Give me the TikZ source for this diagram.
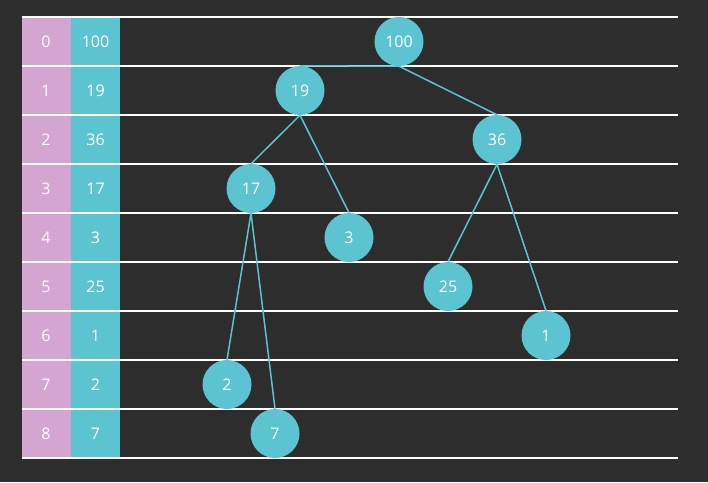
\documentclass[tikz,border=0pt]{standalone}
\usepackage{fontspec}
\setmainfont{Open Sans}
\newlength{\du}
\setlength{\du}{1pt}
\definecolor{bgcolor}{rgb}{0.176, 0.176, 0.176}
\definecolor{pinkcolor}{rgb}{0.831, 0.647, 0.816}
\definecolor{cyancolor}{rgb}{0.357, 0.769, 0.816}
\tikzset{
  heapnode/.style={circle, fill=cyancolor, minimum size=49\du, inner sep=0pt, text=white, font=\fontsize{16}{19}\selectfont},
  cell/.style={text=white, font=\fontsize{16}{19}\selectfont},
  rowline/.style={draw=white, line width=1.5\du},
  heapedge/.style={draw=cyancolor, line width=1.5\du}
}
\begin{document}
\begin{tikzpicture}
\pgftransformxscale{1.000000}
\pgftransformyscale{-1.000000}
\fill[bgcolor] (0\du,0\du) rectangle (708\du,482\du);
\useasboundingbox (0\du,0\du) rectangle (708\du,482\du);
% table columns
\fill[pinkcolor] (22\du,17\du) rectangle (71\du,458\du);
\fill[cyancolor] (71\du,17\du) rectangle (120\du,458\du);
% row lines
\foreach \k in {0,...,9}
  \draw[rowline] (22\du,17\du+\k*49\du) -- (678\du,17\du+\k*49\du);
% index and value cells
\node[cell] (idx0) at (46\du,41.5\du){0};
\node[cell] (val0) at (95.5\du,41.5\du){100};
\node[cell] (idx1) at (46\du,90.5\du){1};
\node[cell] (val1) at (95.5\du,90.5\du){19};
\node[cell] (idx2) at (46\du,139.5\du){2};
\node[cell] (val2) at (95.5\du,139.5\du){36};
\node[cell] (idx3) at (46\du,188.5\du){3};
\node[cell] (val3) at (95.5\du,188.5\du){17};
\node[cell] (idx4) at (46\du,237.5\du){4};
\node[cell] (val4) at (95.5\du,237.5\du){3};
\node[cell] (idx5) at (46\du,286.5\du){5};
\node[cell] (val5) at (95.5\du,286.5\du){25};
\node[cell] (idx6) at (46\du,335.5\du){6};
\node[cell] (val6) at (95.5\du,335.5\du){1};
\node[cell] (idx7) at (46\du,384.5\du){7};
\node[cell] (val7) at (95.5\du,384.5\du){2};
\node[cell] (idx8) at (46\du,433.5\du){8};
\node[cell] (val8) at (95.5\du,433.5\du){7};
% heap tree
\node[heapnode] (n0) at (399\du,41.5\du){100};
\node[heapnode] (n1) at (300\du,90.5\du){19};
\node[heapnode] (n2) at (497\du,139.5\du){36};
\node[heapnode] (n3) at (251\du,188.5\du){17};
\node[heapnode] (n4) at (349\du,237.5\du){3};
\node[heapnode] (n5) at (448\du,286.5\du){25};
\node[heapnode] (n6) at (546\du,335.5\du){1};
\node[heapnode] (n7) at (227\du,384.5\du){2};
\node[heapnode] (n8) at (275\du,433.5\du){7};
% edges, parent bottom to child top
\draw[heapedge] (n0.south) -- (n1.north);
\draw[heapedge] (n0.south) -- (n2.north);
\draw[heapedge] (n1.south) -- (n3.north);
\draw[heapedge] (n1.south) -- (n4.north);
\draw[heapedge] (n2.south) -- (n5.north);
\draw[heapedge] (n2.south) -- (n6.north);
\draw[heapedge] (n3.south) -- (n7.north);
\draw[heapedge] (n3.south) -- (n8.north);
\end{tikzpicture}
\end{document}
